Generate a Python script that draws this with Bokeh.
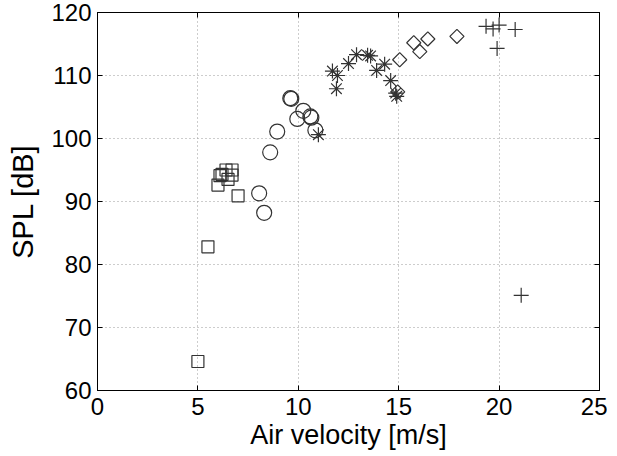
import numpy as np
from bokeh.plotting import figure
from bokeh.models import LinearAxis, FixedTicker, Range1d, CustomLabelingPolicy
from bokeh.embed import file_html
from bokeh.resources import INLINE

# --- data ---
sq_x = [5.0, 5.5, 6.0, 6.1, 6.2, 6.4, 6.5, 6.7, 6.7, 7.0]
sq_y = [64.6, 82.8, 92.6, 94.1, 94.3, 95.0, 93.5, 95.0, 94.2, 90.9]

ci_x = [8.05, 8.3, 8.6, 8.95, 9.6, 9.65, 9.95, 10.25, 10.6, 10.65, 10.85]
ci_y = [91.3, 88.2, 97.8, 101.1, 106.4, 106.3, 103.1, 104.4, 103.5, 103.3, 101.3]

as_x = [11.0, 11.7, 11.95, 11.9, 12.5, 12.9, 13.45, 13.6, 13.9, 14.3, 14.6, 14.85, 14.9]
as_y = [100.6, 110.7, 110.0, 107.9, 111.9, 113.3, 113.2, 113.1, 110.8, 111.8, 109.2, 107.2, 106.7]

di_x = [14.95, 15.05, 15.75, 16.05, 16.45, 17.9]
di_y = [107.4, 112.5, 115.2, 113.8, 115.8, 116.2]

pl_x = [19.35, 19.7, 20.0, 20.8, 19.9, 21.1]
pl_y = [117.8, 117.4, 118.0, 117.3, 114.3, 75.1]

x_ticks = [0, 5, 10, 15, 20, 25]
y_ticks = [60, 70, 80, 90, 100, 110, 120]

FONT = "Liberation Sans"
MC = "#333333"

p = figure(width=607, height=452, output_backend="svg", toolbar_location=None,
           x_range=Range1d(0, 25), y_range=Range1d(60, 120),
           min_border_left=97, min_border_right=8, min_border_top=12, min_border_bottom=40)
p.background_fill_color = "white"
p.border_fill_color = "white"
p.outline_line_color = "black"
p.outline_line_width = 1

for ax in (p.xaxis[0], p.yaxis[0]):
    ax.major_label_text_font = FONT
    ax.major_label_text_font_size = "24px"
    ax.axis_label_text_font = FONT
    ax.axis_label_text_font_size = "27px"
    ax.axis_label_text_font_style = "normal"
    ax.major_tick_in = 5
    ax.major_tick_out = 0
    ax.minor_tick_line_color = None
    ax.axis_line_color = "black"
    ax.major_label_text_color = "black"
    ax.axis_label_text_color = "black"

p.yaxis[0].axis_label_text_font_size = "29px"
p.xaxis[0].ticker = FixedTicker(ticks=x_ticks)
p.yaxis[0].ticker = FixedTicker(ticks=y_ticks)
p.xaxis[0].axis_label = "Air velocity [m/s]"
p.yaxis[0].axis_label = "SPL [dB]"
p.xaxis[0].major_label_standoff = 7
p.yaxis[0].major_label_standoff = 6
p.xaxis[0].axis_label_standoff = 2
p.yaxis[0].axis_label_standoff = 9

# mirrored ticks on top and right (box), without labels
hide = "for (let i = 0; i < indices.size; i++) { indices.unset(i) } return indices"
top = LinearAxis(ticker=FixedTicker(ticks=x_ticks), major_tick_in=5, major_tick_out=0,
                 minor_tick_line_color=None, major_label_standoff=0, axis_line_color="black",
                 major_label_text_font_size="1px",
                 major_label_policy=CustomLabelingPolicy(code=hide))
right = LinearAxis(ticker=FixedTicker(ticks=y_ticks), major_tick_in=5, major_tick_out=0,
                   minor_tick_line_color=None, major_label_standoff=0, axis_line_color="black",
                   major_label_text_font_size="1px",
                   major_label_policy=CustomLabelingPolicy(code=hide))
p.add_layout(top, "above")
p.add_layout(right, "right")

p.xgrid.ticker = FixedTicker(ticks=x_ticks)
p.ygrid.ticker = FixedTicker(ticks=y_ticks)
for g in (p.xgrid[0], p.ygrid[0]):
    g.grid_line_color = "#9a9a9a"
    g.grid_line_dash = "1 3"
    g.grid_line_width = 1

p.scatter(sq_x, sq_y, marker="square", size=12, fill_color=None, line_color=MC, line_width=1.2)
p.scatter(ci_x, ci_y, marker="circle", size=15, fill_color=None, line_color=MC, line_width=1.2)
p.scatter(as_x, as_y, marker="asterisk", size=15, line_color=MC, line_width=1.2)
p.scatter(di_x, di_y, marker="square", angle=np.pi / 4, size=10, fill_color=None, line_color=MC, line_width=1.2)
p.scatter(pl_x, pl_y, marker="cross", size=15, line_color=MC, line_width=1.2)

open("out.html", "w").write(file_html(p, INLINE))
